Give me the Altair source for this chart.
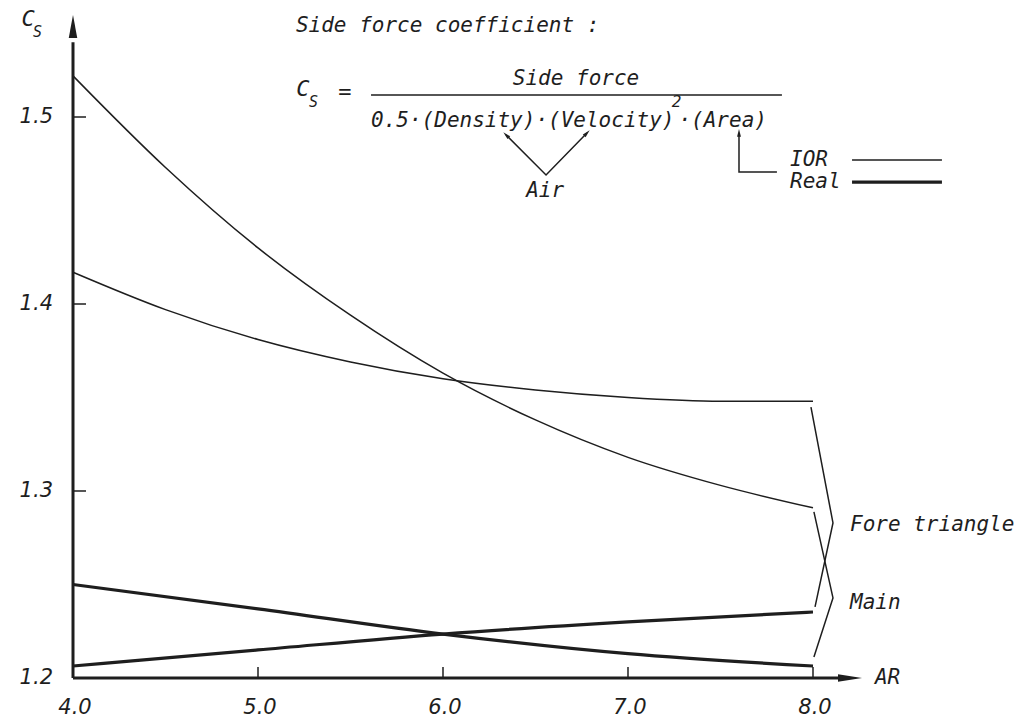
import altair as alt
import pandas as pd

# ---- data ----
ar_ior = [4.0, 4.5, 5.0, 5.5, 6.0, 6.5, 7.0, 7.5, 8.0]
main_ior = [1.522, 1.473, 1.430, 1.394, 1.363, 1.338, 1.318, 1.303, 1.291]
fore_ior = [1.417, 1.397, 1.381, 1.369, 1.360, 1.354, 1.350, 1.348, 1.348]

ar_real = [4.0, 5.0, 6.0, 7.0, 8.0]
main_real = [1.250, 1.237, 1.2235, 1.213, 1.2064]
fore_real = [1.2064, 1.215, 1.2235, 1.230, 1.2353]

x_ticks = [4.0, 5.0, 6.0, 7.0, 8.0]
x_tick_labels = ["4.0", "5.0", "6.0", "7.0", "8.0"]
y_ticks = [1.2, 1.3, 1.4, 1.5]
y_tick_labels = ["1.2", "1.3", "1.4", "1.5"]

# annotation geometry (data units)
bracket_fore_x = [7.989, 8.108, 8.011]
bracket_fore_y = [1.3449, 1.2829, 1.2380]
bracket_main_x = [8.005, 8.108, 8.005]
bracket_main_y = [1.2888, 1.2428, 1.2112]

air_x = [6.341, 6.557, 6.778]
air_y = [1.4904, 1.469, 1.4914]

ann_text = ["Side force coefficient :", "C", "S", "=", "Side force",
            "0.5·(Density)·(Velocity)", "2", "·(Area)", "Air",
            "IOR", "Real", "Fore triangle", "Main", "AR", "C", "S"]
ann_x = [5.205, 5.243, 5.300, 5.470, 6.719, 5.611, 7.262, 7.751, 6.552,
         7.876, 7.876, 8.200, 8.200, 8.335, 3.757, 3.808]
ann_y = [1.5487, 1.5150, 1.5080, 1.5134, 1.5203, 1.4979, 1.5080, 1.4979, 1.4604,
         1.4770, 1.4652, 1.2818, 1.2401, 1.2000, 1.5524, 1.5455]
ann_size = [21, 22, 15, 22, 21, 21, 16, 21, 21, 21, 21, 21, 21, 21, 22, 15]
ann_align = ["left", "center", "center", "center", "center", "left", "center", "right",
             "center", "left", "left", "left", "left", "left", "center", "center"]

XD = [3.6054, 9.1838]
YD = [1.17807, 1.56257]
xs = alt.Scale(domain=XD, nice=False, zero=False)
ys = alt.Scale(domain=YD, nice=False, zero=False)
INK = "#1e1e1e"
FONT = "DejaVu Sans Mono"
TICK_FONT = "DejaVu Sans"


def X(f="x"):
    return alt.X(f"{f}:Q", scale=xs, axis=None)


def Y(f="y"):
    return alt.Y(f"{f}:Q", scale=ys, axis=None)


def line_layer(xv, yv, width, interp="monotone"):
    df = pd.DataFrame({"x": xv, "y": yv, "o": list(range(len(xv)))})
    return alt.Chart(df).mark_line(color=INK, strokeWidth=width, interpolate=interp).encode(
        x=X(), y=Y(), order="o:Q")


layers = []
# curves
layers.append(line_layer(ar_ior, main_ior, 1.5))
layers.append(line_layer(ar_ior, fore_ior, 1.5))
layers.append(line_layer(ar_real, main_real, 3.2))
layers.append(line_layer(ar_real, fore_real, 3.2))

# axes lines
axes_df = pd.DataFrame({"x": [4.0, 4.0], "x2": [4.0, 8.16], "y": [1.2, 1.2], "y2": [1.54, 1.2]})
layers.append(alt.Chart(axes_df).mark_rule(color=INK, strokeWidth=3).encode(
    x=X(), x2="x2:Q", y=Y(), y2="y2:Q"))

# ticks
yt_df = pd.DataFrame({"y": y_ticks[1:]})
layers.append(alt.Chart(yt_df).mark_rule(color=INK, strokeWidth=1.5).encode(
    x=alt.value(73), x2=alt.value(86), y=Y()))
xt_df = pd.DataFrame({"x": x_ticks[1:]})
layers.append(alt.Chart(xt_df).mark_rule(color=INK, strokeWidth=1.5).encode(
    x=X(), y=alt.value(678), y2=alt.value(667)))

# tick labels
xl_df = pd.DataFrame({"x": x_ticks, "lab": x_tick_labels})
layers.append(alt.Chart(xl_df).mark_text(font=TICK_FONT, fontStyle="italic", fontSize=21,
                                         color=INK, align="center", baseline="middle", dx=2).encode(
    x=X(), y=alt.value(708), text="lab:N"))
yl_df = pd.DataFrame({"y": y_ticks, "lab": y_tick_labels})
layers.append(alt.Chart(yl_df).mark_text(font=TICK_FONT, fontStyle="italic", fontSize=21,
                                         color=INK, align="right", baseline="middle").encode(
    x=alt.value(53), y=Y(), text="lab:N"))

# arrow heads of axes
arrow_up = "M0,-1L0.37,1L-0.37,1Z"
arrow_right = "M1,0L-1,-0.32L-1,0.32Z"
layers.append(alt.Chart(pd.DataFrame({"x": [4.0], "y": [1.5484]})).mark_point(
    shape=arrow_up, filled=True, size=530, color=INK, opacity=1).encode(x=X(), y=Y()))
layers.append(alt.Chart(pd.DataFrame({"x": [8.20], "y": [1.2]})).mark_point(
    shape=arrow_right, filled=True, size=576, color=INK, opacity=1).encode(x=X(), y=Y()))

# brackets
layers.append(line_layer(bracket_fore_x, bracket_fore_y, 1.5, "linear"))
layers.append(line_layer(bracket_main_x, bracket_main_y, 1.5, "linear"))

# fraction bar
layers.append(alt.Chart(pd.DataFrame({"x": [5.611], "x2": [7.832], "y": [1.5118]})).mark_rule(
    color=INK, strokeWidth=1.5).encode(x=X(), x2="x2:Q", y=Y()))

# Air arrows
layers.append(line_layer(air_x, air_y, 1.5, "linear"))
small_up = "M0,-1L0.5,1L-0.5,1Z"
air_head = pd.DataFrame({"x": [air_x[0], air_x[2]], "y": [air_y[0], air_y[2]], "a": [315, 45]})
layers.append(alt.Chart(air_head).mark_point(shape=small_up, filled=True, size=60,
                                             color=INK, opacity=1).encode(
    x=X(), y=Y(), angle=alt.Angle("a:Q", scale=None)))

# IOR / Real pointer from (Area)
ptr_df = pd.DataFrame({"x": [7.805, 7.600, 7.600], "y": [1.4706, 1.4706, 1.4905],
                       "o": [0, 1, 2]})
layers.append(alt.Chart(ptr_df).mark_line(color=INK, strokeWidth=1.5).encode(
    x=X(), y=Y(), order="o:Q"))
layers.append(alt.Chart(pd.DataFrame({"x": [7.600], "y": [1.4915]})).mark_point(
    shape=small_up, filled=True, size=60, color=INK, opacity=1).encode(x=X(), y=Y()))

# legend lines
leg_df = pd.DataFrame({"x": [8.211, 8.211], "x2": [8.697, 8.697], "y": [1.4770, 1.4652],
                       "w": [1.5, 3.2]})
layers.append(alt.Chart(leg_df).mark_rule(color=INK).encode(
    x=X(), x2="x2:Q", y=Y(), strokeWidth=alt.StrokeWidth("w:Q", scale=None)))

# annotation texts
ann_df = pd.DataFrame({"x": ann_x, "y": ann_y, "t": ann_text, "s": ann_size, "al": ann_align})
for al in ["left", "center", "right"]:
    sub = ann_df[ann_df["al"] == al]
    layers.append(alt.Chart(sub).mark_text(font=FONT, fontStyle="italic", color=INK,
                                           align=al, baseline="middle").encode(
        x=X(), y=Y(), text="t:N", size=alt.Size("s:Q", scale=None)))

chart = alt.layer(*layers).properties(
    width=1032, height=719, padding=0, autosize="none", background="white"
).configure_view(strokeWidth=0)

chart.save("out.html", embed_options={"renderer": "svg", "actions": False})
